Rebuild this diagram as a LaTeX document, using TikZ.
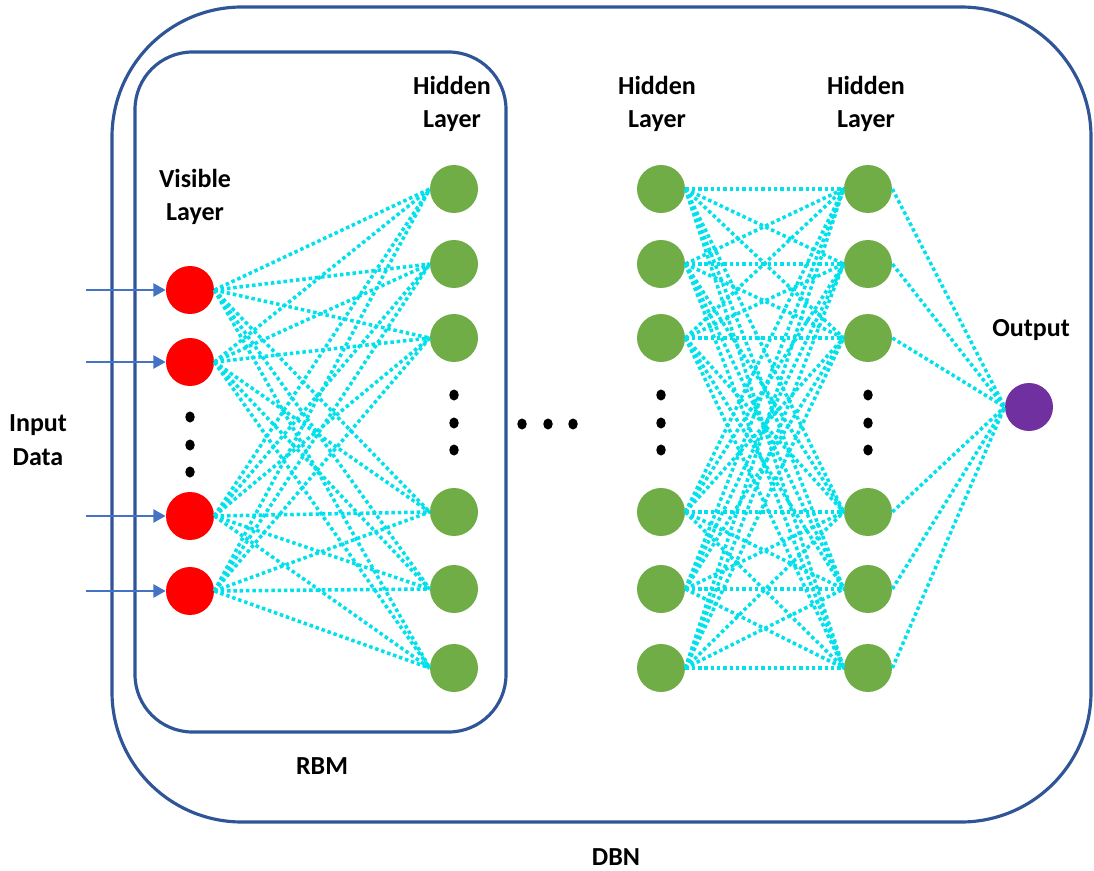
\documentclass[tikz,border=0pt]{standalone}
\usepackage{fontspec}
\setmainfont{Carlito}
\usetikzlibrary{arrows.meta}
\definecolor{frameblue}{HTML}{2F5597}
\definecolor{arrowblue}{HTML}{4472C4}
\definecolor{conncyan}{HTML}{00E1EC}
\definecolor{nodegreen}{HTML}{70AD47}
\definecolor{outpurple}{HTML}{7030A0}
\tikzset{
  frame/.style={draw=frameblue, line width=1.8pt},
  unit/.style={circle, inner sep=0pt, minimum size=0.96cm},
  visnode/.style={unit, fill=red},
  hidnode/.style={unit, fill=nodegreen},
  outnode/.style={unit, fill=outpurple},
  conn/.style={draw=conncyan, line width=2pt, dash pattern=on 2pt off 1.6pt},
  inarrow/.style={draw=arrowblue, line width=1.1pt, -{Triangle[length=7pt,width=7.5pt]}},
  lbl/.style={font=\fontsize{14.8}{19}\selectfont\bfseries, align=center, inner sep=0pt},
  dotmark/.style={fill=black}
}
\begin{document}
\begin{tikzpicture}[x=0.02cm,y=-0.02cm]
\useasboundingbox (0,0) rectangle (1094,871);
% frames
\draw[frame, rounded corners=2.6cm] (112,7) rectangle (1091,822);
\draw[frame, rounded corners=1.15cm] (135,52) rectangle (506,732);
% visible layer
\foreach \i/\y in {1/290,2/362,3/516,4/591}{
  \node[visnode] (v\i) at (190,\y) {};
}
% hidden layers
\foreach \j/\y in {1/189,2/264,3/338,4/512,5/589,6/668}{
  \node[hidnode] (a\j) at (454,\y) {};
  \node[hidnode] (b\j) at (661,\y) {};
  \node[hidnode] (c\j) at (868,\y) {};
}
\node[outnode] (o) at (1029,407) {};
% connections
\foreach \i in {1,...,4}{
  \foreach \j in {1,...,6}{
    \draw[conn] (v\i.east) -- (a\j.west);
  }
}
\foreach \i in {1,...,6}{
  \foreach \j in {1,...,6}{
    \draw[conn] (b\i.east) -- (c\j.west);
  }
  \draw[conn] (c\i.east) -- (o.west);
}
% input arrows
\foreach \i/\y in {1/290,2/362,3/516,4/591}{
  \coordinate (in\i) at (86,\y);
  \draw[inarrow] (in\i) -- (v\i.west);
}
% ellipsis dots
\foreach \y in {417,445,472}{
  \fill[dotmark] (190,\y) circle[x radius=0.095cm, y radius=0.11cm];
}
\foreach \x in {454,661,868}{
  \foreach \y in {395,423,450}{
    \fill[dotmark] (\x,\y) circle[x radius=0.095cm, y radius=0.11cm];
  }
}
\foreach \x in {522,548,573}{
  \fill[dotmark] (\x,424) circle[x radius=0.095cm, y radius=0.11cm];
}
% labels
\node[lbl] (lvis) at (195,197) {Visible\\Layer};
\node[lbl] (lh1) at (452,104) {Hidden\\Layer};
\node[lbl] (lh2) at (657,104) {Hidden\\Layer};
\node[lbl] (lh3) at (866,104) {Hidden\\Layer};
\node[lbl] (lout) at (1031,330) {Output};
\node[lbl] (lin) at (38,440) {Input\\Data};
\node[lbl] (lrbm) at (322,766) {RBM};
\node[lbl] (ldbn) at (616,857) {DBN};
\end{tikzpicture}
\end{document}
